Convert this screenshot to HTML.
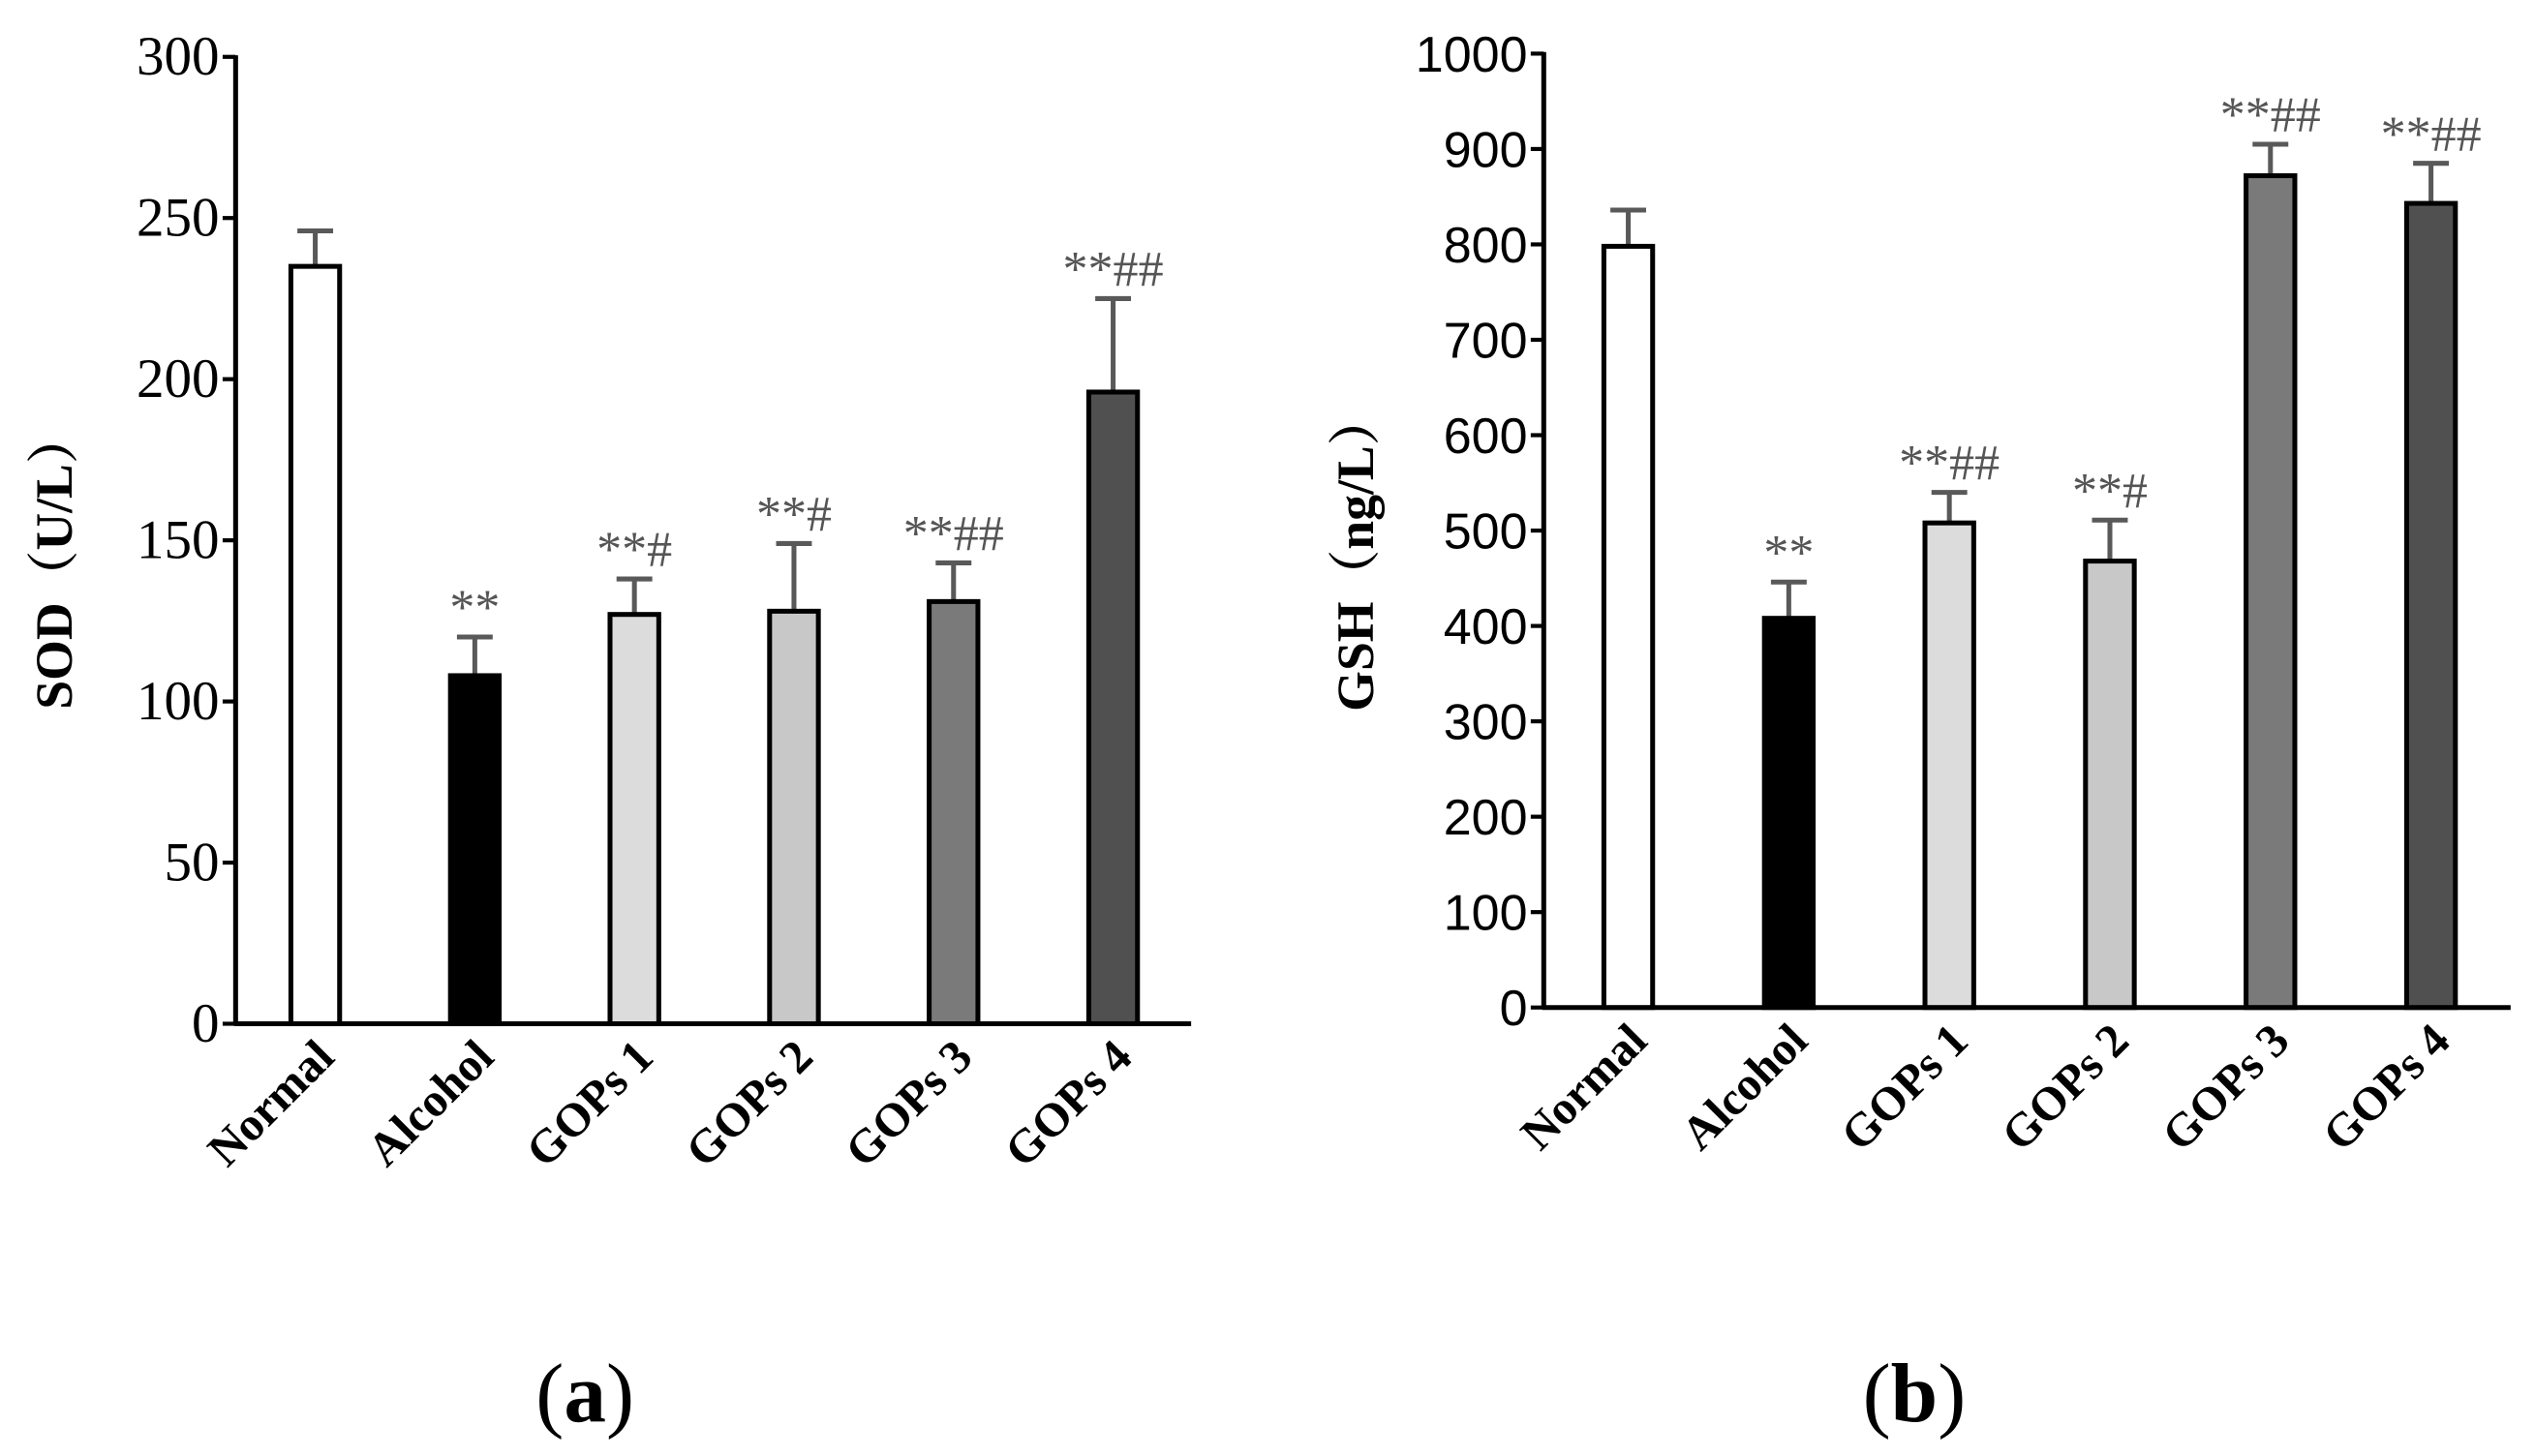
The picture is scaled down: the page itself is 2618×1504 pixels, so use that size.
<!DOCTYPE html>
<html><head><meta charset="utf-8"><style>
html,body{margin:0;padding:0;background:#fff;}
svg{display:block;}
</style></head><body>
<svg id="fig" width="2618" height="1504" viewBox="0 0 1560 896" preserveAspectRatio="none" xmlns="http://www.w3.org/2000/svg"></svg>
<script>
const categories = ["Normal","Alcohol","GOPs 1","GOPs 2","GOPs 3","GOPs 4"];
const fills = ["#ffffff","#000000","#dcdcdc","#c8c8c8","#7a7a7a","#505050"];
const sodValues = [235,108,127,128,131,196];
const sodErrors = [11,12,11,21,12,29];
const sodMarks = ["","**","**#","**#","**##","**##"];
const sodTicks = [0,50,100,150,200,250,300];
const gshValues = [798,408,508,468,872,843];
const gshErrors = [38,38,32,43,33,42];
const gshMarks = ["","**","**##","**#","**##","**##"];
const gshTicks = [0,100,200,300,400,500,600,700,800,900,1000];

const NS="http://www.w3.org/2000/svg";
const svg=document.getElementById('fig');
function mk(tag,attrs,parent){const e=document.createElementNS(NS,tag);for(const k in attrs)e.setAttribute(k,attrs[k]);(parent||svg).appendChild(e);return e;}

function chart(cfg){
  const g=mk('g',{});
  
  
  const y=v=>cfg.y0-(v/cfg.max)*(cfg.y0-cfg.yTop);
  const x=i=>cfg.x0+i*cfg.step;
  const ya=mk('line',{x1:cfg.ax,y1:cfg.yTop-1,x2:cfg.ax,y2:cfg.y0,stroke:'#000','stroke-width':3},g);
  
  
  const xa=mk('line',{x1:cfg.ax-1,y1:cfg.y0,x2:cfg.axEnd,y2:cfg.y0,stroke:'#000','stroke-width':3},g);
  
  
  cfg.ticks.forEach(t=>{
    mk('line',{x1:cfg.ax-8,y1:y(t),x2:cfg.ax,y2:y(t),stroke:'#000','stroke-width':2.5},g);
    const tl=mk('text',{x:cfg.ax-10,y:y(t)+11,'text-anchor':'end','font-family':cfg.tickFont,'font-size':cfg.tickSize,fill:'#000'},g);
    tl.textContent=t;
    
    
  });
  cfg.values.forEach((v,i)=>{
    const cx=x(i), w=30;
    const top=y(v+cfg.errors[i]);
    const el=mk('line',{x1:cx,y1:y(v),x2:cx,y2:top,stroke:'#595959','stroke-width':3},g);
    
    
    mk('line',{x1:cx-11,y1:top,x2:cx+11,y2:top,stroke:'#595959','stroke-width':3},g);
    const b=mk('rect',{x:cx-w/2,y:y(v),width:w,height:cfg.y0-y(v),fill:fills[i],stroke:'#000','stroke-width':3},g);
    
    
    if(cfg.marks[i]){
      const a=mk('text',{x:cx,y:top-8,'text-anchor':'middle','font-family':'Liberation Serif, serif','font-size':31,fill:'#555'},g);
      a.textContent=cfg.marks[i];
      
      
    }
    const c=mk('text',{x:0,y:0,'text-anchor':'end','font-family':'Liberation Serif, serif','font-weight':'bold','font-size':29,fill:'#000',transform:`translate(${cx+13},${cfg.y0+22}) rotate(-45)`},g);
    c.textContent=categories[i];
    
    
  });
  const tt=mk('text',{x:0,y:0,'text-anchor':'middle','font-family':'Liberation Serif, "Noto Serif CJK SC", serif','font-weight':'bold','font-size':32,fill:'#000',transform:`translate(${cfg.titleX},${cfg.titleY}) rotate(-90)`},g);
  tt.textContent=cfg.title;
  
  
  const pl=mk('text',{x:cfg.panelX,y:875,'text-anchor':'middle','font-family':'Liberation Serif, serif','font-size':52,fill:'#000'},g);
  pl.innerHTML='(<tspan font-weight="bold">'+cfg.panel+'</tspan>)';
  
  
}
chart({name:'sod-chart',ax:145,axEnd:733,yTop:35,y0:630,max:300,x0:194,step:98.2,ticks:sodTicks,values:sodValues,errors:sodErrors,marks:sodMarks,tickFont:'Liberation Serif, serif',tickSize:34,title:'SOD（U/L）',titleX:44,titleY:345,panel:'a',panelX:360});
chart({name:'gsh-chart',ax:950,axEnd:1545,yTop:33,y0:620,max:1000,x0:1002,step:98.8,ticks:gshTicks,values:gshValues,errors:gshErrors,marks:gshMarks,tickFont:'Liberation Sans, sans-serif',tickSize:31,title:'GSH（ng/L）',titleX:845,titleY:340,panel:'b',panelX:1178});
</script>
</body></html>
